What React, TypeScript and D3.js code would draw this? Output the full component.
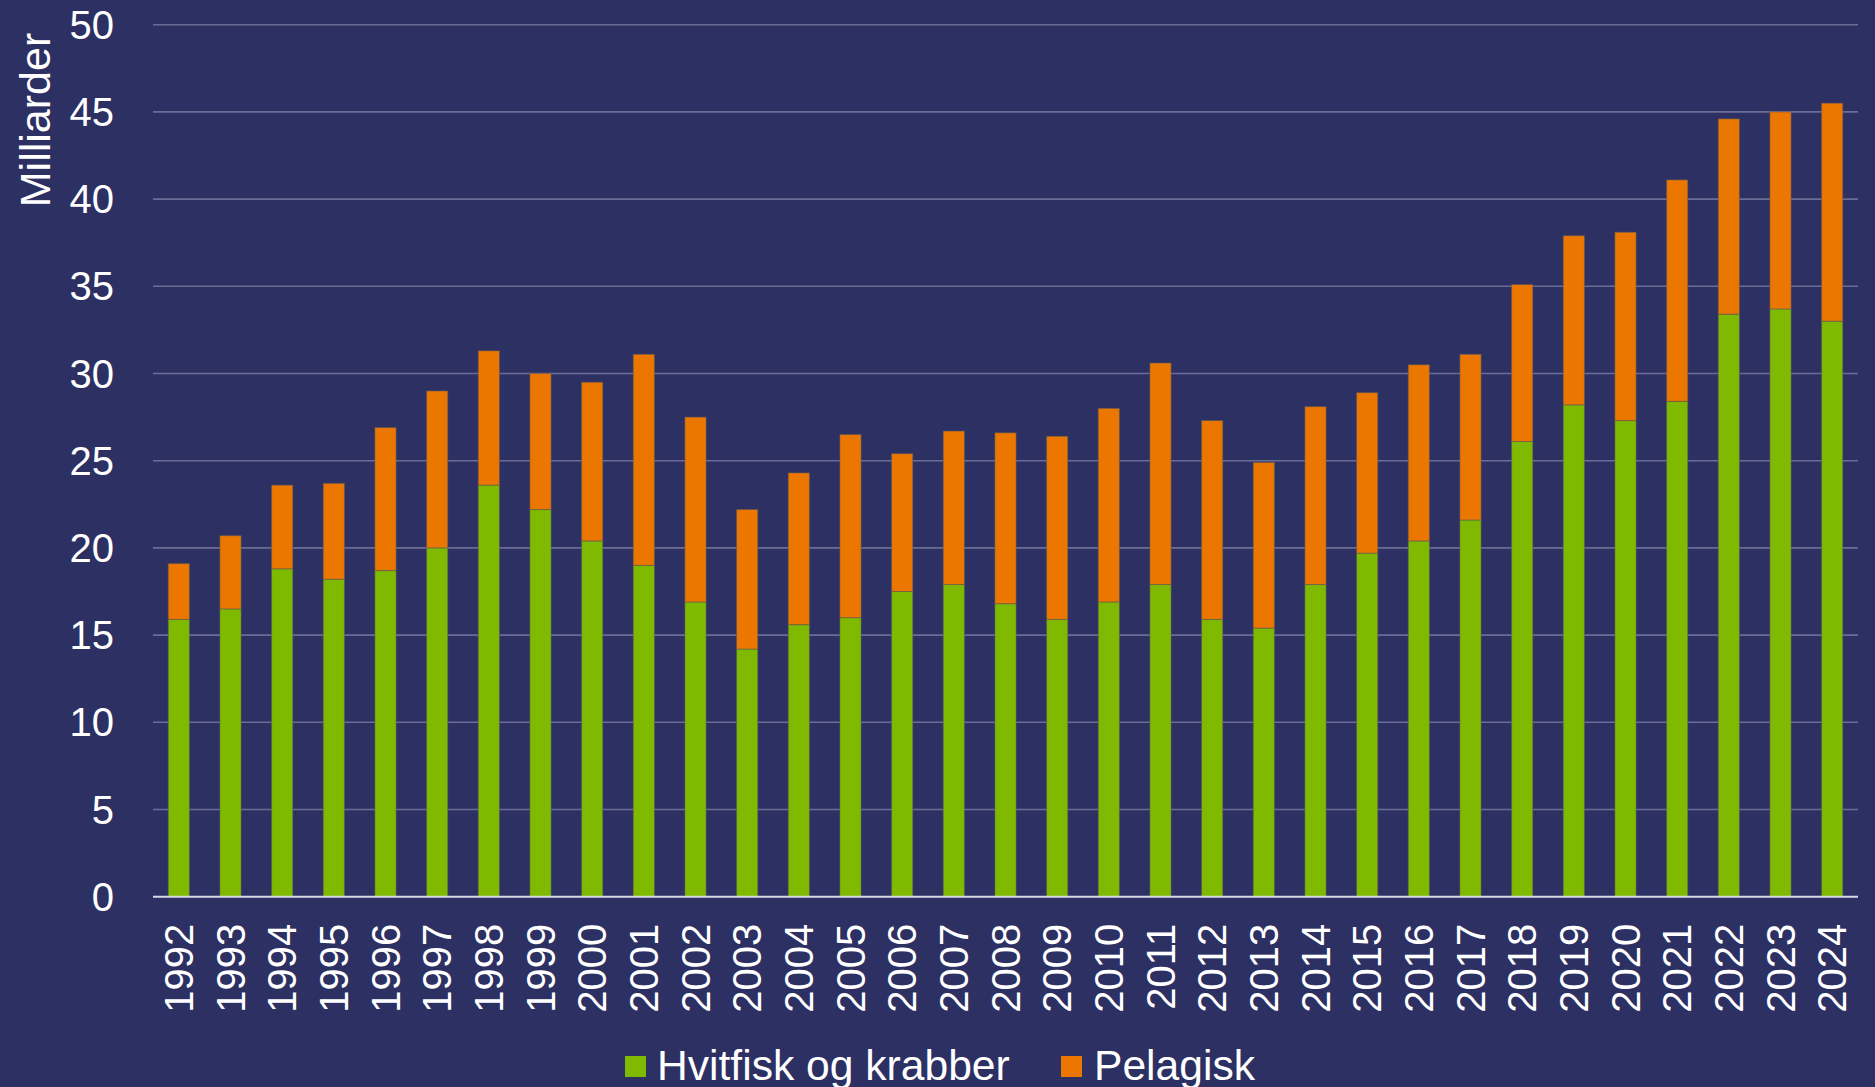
import * as d3 from "d3";

const WIDTH = 1875;
const HEIGHT = 1087;
const MARGIN = { top: 24.7, right: 17, bottom: 190.3, left: 153 };

const BG = "#2d3063";
const GREEN = "#7fba00";
const ORANGE = "#eb7700";
const FONT = "'Liberation Sans', Arial, sans-serif";

const years = [
  1992, 1993, 1994, 1995, 1996, 1997, 1998, 1999, 2000, 2001, 2002, 2003, 2004,
  2005, 2006, 2007, 2008, 2009, 2010, 2011, 2012, 2013, 2014, 2015, 2016, 2017,
  2018, 2019, 2020, 2021, 2022, 2023, 2024,
];

// Hvitfisk og krabber (milliarder)
const hvitfisk = [
  15.9, 16.5, 18.8, 18.2, 18.7, 20.0, 23.6, 22.2, 20.4, 19.0, 16.9, 14.2, 15.6,
  16.0, 17.5, 17.9, 16.8, 15.9, 16.9, 17.9, 15.9, 15.4, 17.9, 19.7, 20.4, 21.6,
  26.1, 28.2, 27.3, 28.4, 33.4, 33.7, 33.0,
];

// total (hvitfisk + pelagisk)
const totals = [
  19.1, 20.7, 23.6, 23.7, 26.9, 29.0, 31.3, 30.0, 29.5, 31.1, 27.5, 22.2, 24.3,
  26.5, 25.4, 26.7, 26.6, 26.4, 28.0, 30.6, 27.3, 24.9, 28.1, 28.9, 30.5, 31.1,
  35.1, 37.9, 38.1, 41.1, 44.6, 45.0, 45.5,
];

const pelagisk = totals.map((t, i) => +(t - hvitfisk[i]).toFixed(1));

const yTicks = [0, 5, 10, 15, 20, 25, 30, 35, 40, 45, 50];

export default function App() {
  const x = d3
    .scaleBand<number>()
    .domain(years)
    .range([MARGIN.left, WIDTH - MARGIN.right])
    .paddingInner(0.59)
    .paddingOuter(0.295);

  const y = d3
    .scaleLinear()
    .domain([0, 50])
    .range([HEIGHT - MARGIN.bottom, MARGIN.top]);

  const stack = d3.stack<number>().keys(["h", "p"]).value((i, k) =>
    k === "h" ? hvitfisk[i] : pelagisk[i]
  );
  const series = stack(years.map((_, i) => i));
  const colors = [GREEN, ORANGE];

  const bw = x.bandwidth();

  return (
    <div style={{ position: "fixed", left: 0, top: 0 }}>
      <svg width={WIDTH} height={HEIGHT} style={{ display: "block", background: BG }}>
        <rect width={WIDTH} height={HEIGHT} fill={BG} />

        {/* grid lines */}
        {yTicks.slice(1).map((t) => (
          <line
            key={t}
            x1={MARGIN.left}
            x2={WIDTH - MARGIN.right}
            y1={y(t)}
            y2={y(t)}
            stroke="#6b6d96"
            strokeWidth={1.6}
          />
        ))}

        {/* bars */}
        {series.map((s, si) => (
          <g key={si}>
            {s.map((d, i) => (
              <rect
                key={years[i]}
                x={x(years[i])}
                y={y(d[1])}
                width={bw}
                height={y(d[0]) - y(d[1])}
                fill={colors[si]}
                stroke="rgba(90,90,90,0.55)"
                strokeWidth={1}
              />
            ))}
          </g>
        ))}

        {/* baseline */}
        <line
          x1={MARGIN.left}
          x2={WIDTH - MARGIN.right}
          y1={y(0)}
          y2={y(0)}
          stroke="#d9d9e6"
          strokeWidth={2}
        />

        {/* y tick labels */}
        {yTicks.map((t) => (
          <text
            key={t}
            x={114}
            y={y(t)}
            textAnchor="end"
            dominantBaseline="central"
            fill="#fff"
            fontSize={40}
            fontFamily={FONT}
          >
            {t}
          </text>
        ))}

        {/* y title */}
        <text
          transform="translate(50,120) rotate(-90)"
          textAnchor="middle"
          fill="#fff"
          fontSize={43}
          fontFamily={FONT}
        >
          Milliarder
        </text>

        {/* x tick labels */}
        {years.map((yr) => (
          <text
            key={yr}
            transform={`translate(${x(yr)! + bw / 2},${y(0) + 27}) rotate(-90)`}
            textAnchor="end"
            dominantBaseline="central"
            fill="#fff"
            fontSize={40}
            fontFamily={FONT}
          >
            {yr}
          </text>
        ))}

        {/* legend */}
        <g>
          <rect x={625} y={1056} width={21} height={21} fill={GREEN} />
          <text x={657} y={1080} fill="#fff" fontSize={42.6} fontFamily={FONT}>
            Hvitfisk og krabber
          </text>
          <rect x={1061} y={1056} width={21} height={21} fill={ORANGE} />
          <text x={1094} y={1080} fill="#fff" fontSize={42.6} fontFamily={FONT}>
            Pelagisk
          </text>
        </g>
      </svg>
    </div>
  );
}
